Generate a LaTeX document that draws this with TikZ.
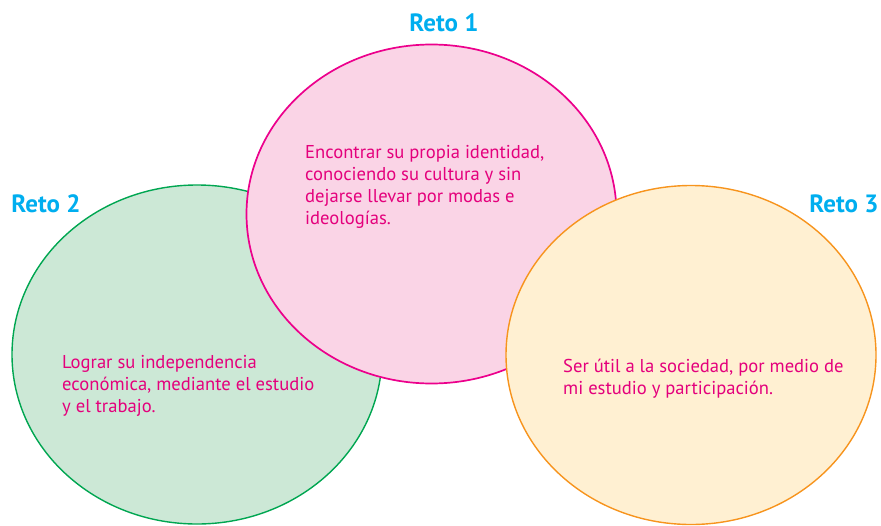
\documentclass[tikz,border=0pt]{standalone}
\usepackage{fontspec}
\setmainfont{PT Sans}
\usepackage{xcolor}
\usetikzlibrary{shapes.geometric,positioning}
\definecolor{rgreen}{HTML}{00A651}
\definecolor{rpink}{HTML}{EC008C}
\definecolor{rorange}{HTML}{F7941D}
\definecolor{lgreen}{HTML}{CCE8D6}
\definecolor{lpink}{HTML}{FAD4E6}
\definecolor{lorange}{HTML}{FFF0D2}
\definecolor{rtext}{HTML}{E4007C}
\definecolor{rcyan}{HTML}{00AEEF}
\tikzset{
 blob/.style={ellipse,line width=1.4pt,minimum width=370pt,minimum height=339pt,inner sep=0pt},
 greenblob/.style={blob,draw=rgreen,fill=lgreen},
 pinkblob/.style={blob,draw=rpink,fill=lpink,line width=1.7pt},
 orangeblob/.style={blob,draw=rorange,fill=lorange},
 title/.style={text=rcyan,font=\fontsize{25}{28}\selectfont\bfseries},
 body/.style={text=rtext,font=\fontsize{18.6}{22}\selectfont,align=left,anchor=north west,inner sep=0pt}
}
\begin{document}
\begin{tikzpicture}[x=1pt,y=-1pt]
 \useasboundingbox (0,0) rectangle (881,525);
 \node[greenblob] (green) at (197,354.5) {};
 \node[pinkblob] (pink) at (431.5,214) {};
 \node[orangeblob] (orange) at (691,355) {};
 \node[title] (reto1) at (444,23) {Reto 1};
 \node[title] (reto2) at (46,204) {Reto 2};
 \node[title] (reto3) at (844,204) {Reto 3};
 \node[body] (identidad) at (305,145) {Encontrar su propia identidad,\\conociendo su cultura y sin\\dejarse llevar por modas e\\ideologías.};
 \node[body] (trabajo) at (62,355) {Lograr su independencia\\económica, mediante el estudio\\y el trabajo.};
 \node[body] (sociedad) at (563,359) {Ser útil a la sociedad, por medio de\\mi estudio y participación.};
\end{tikzpicture}
\end{document}
